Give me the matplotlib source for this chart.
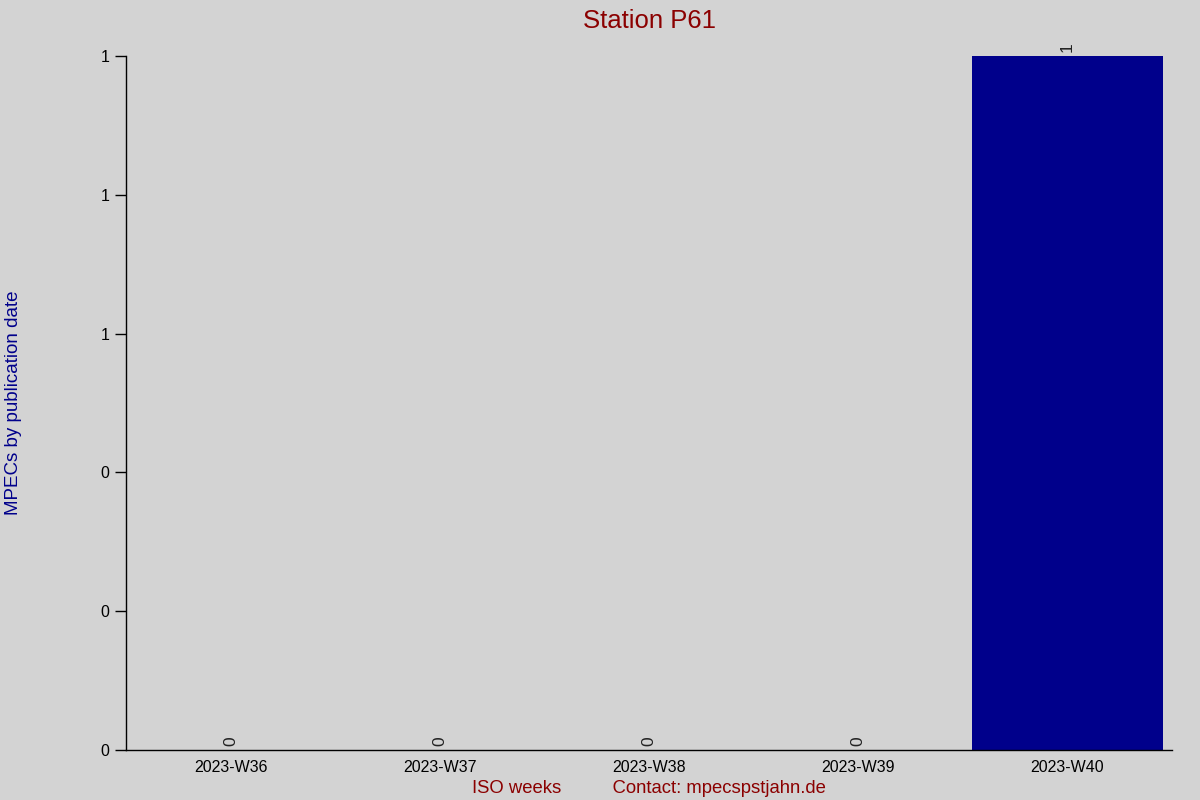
import matplotlib
matplotlib.use("Agg")
import matplotlib.pyplot as plt
from matplotlib.ticker import FuncFormatter

weeks = ["2023-W36", "2023-W37", "2023-W38", "2023-W39", "2023-W40"]
counts = [0, 0, 0, 0, 1]
y_ticks = [0.0, 0.2, 0.4, 0.6, 0.8, 1.0]

plt.rcParams['font.family'] = ['Liberation Sans', 'DejaVu Sans']
bg = '#d3d3d3'
fig = plt.figure(figsize=(12, 8), dpi=100, facecolor=bg)
ax = fig.add_axes([0.105, 0.0625, 0.8717, 0.8675], facecolor=bg)

x = list(range(len(weeks)))
bars = ax.bar(x, counts, width=0.91, color='#00008b')
for xi, v in zip(x, counts):
    ax.annotate(str(v), (xi, v), xytext=(0, 3), textcoords='offset points',
                rotation=90, ha='center', va='bottom', fontsize=12.5, color='#222222')

ax.set_xlim(-0.5, 4.5)
ax.set_ylim(0, 1)
ax.set_xticks(x)
ax.set_xticklabels(weeks)
ax.set_yticks(y_ticks)
ax.yaxis.set_major_formatter(FuncFormatter(lambda v, p: f"{v:.0f}"))
ax.tick_params(axis='x', length=0, pad=7, labelsize=11.5)
ax.tick_params(axis='y', length=8, width=1, pad=4, labelsize=11.5)
for s in ['top', 'right']:
    ax.spines[s].set_visible(False)
ax.spines['left'].set_linewidth(1)
ax.spines['bottom'].set_linewidth(1)

ax.set_title("Station P61", color='#8b0000', fontsize=18.5, pad=20)
ax.set_ylabel("MPECs by publication date", color='#00008b', fontsize=13.5)
ax.yaxis.set_label_coords(-0.0994, 0.5)
ax.set_xlabel("ISO weeks" + " " * 10 + "Contact: mpecspstjahn.de", color='#8b0000',
              fontsize=13.3, labelpad=4)

fig.savefig("out.png", dpi=100, facecolor=bg)
